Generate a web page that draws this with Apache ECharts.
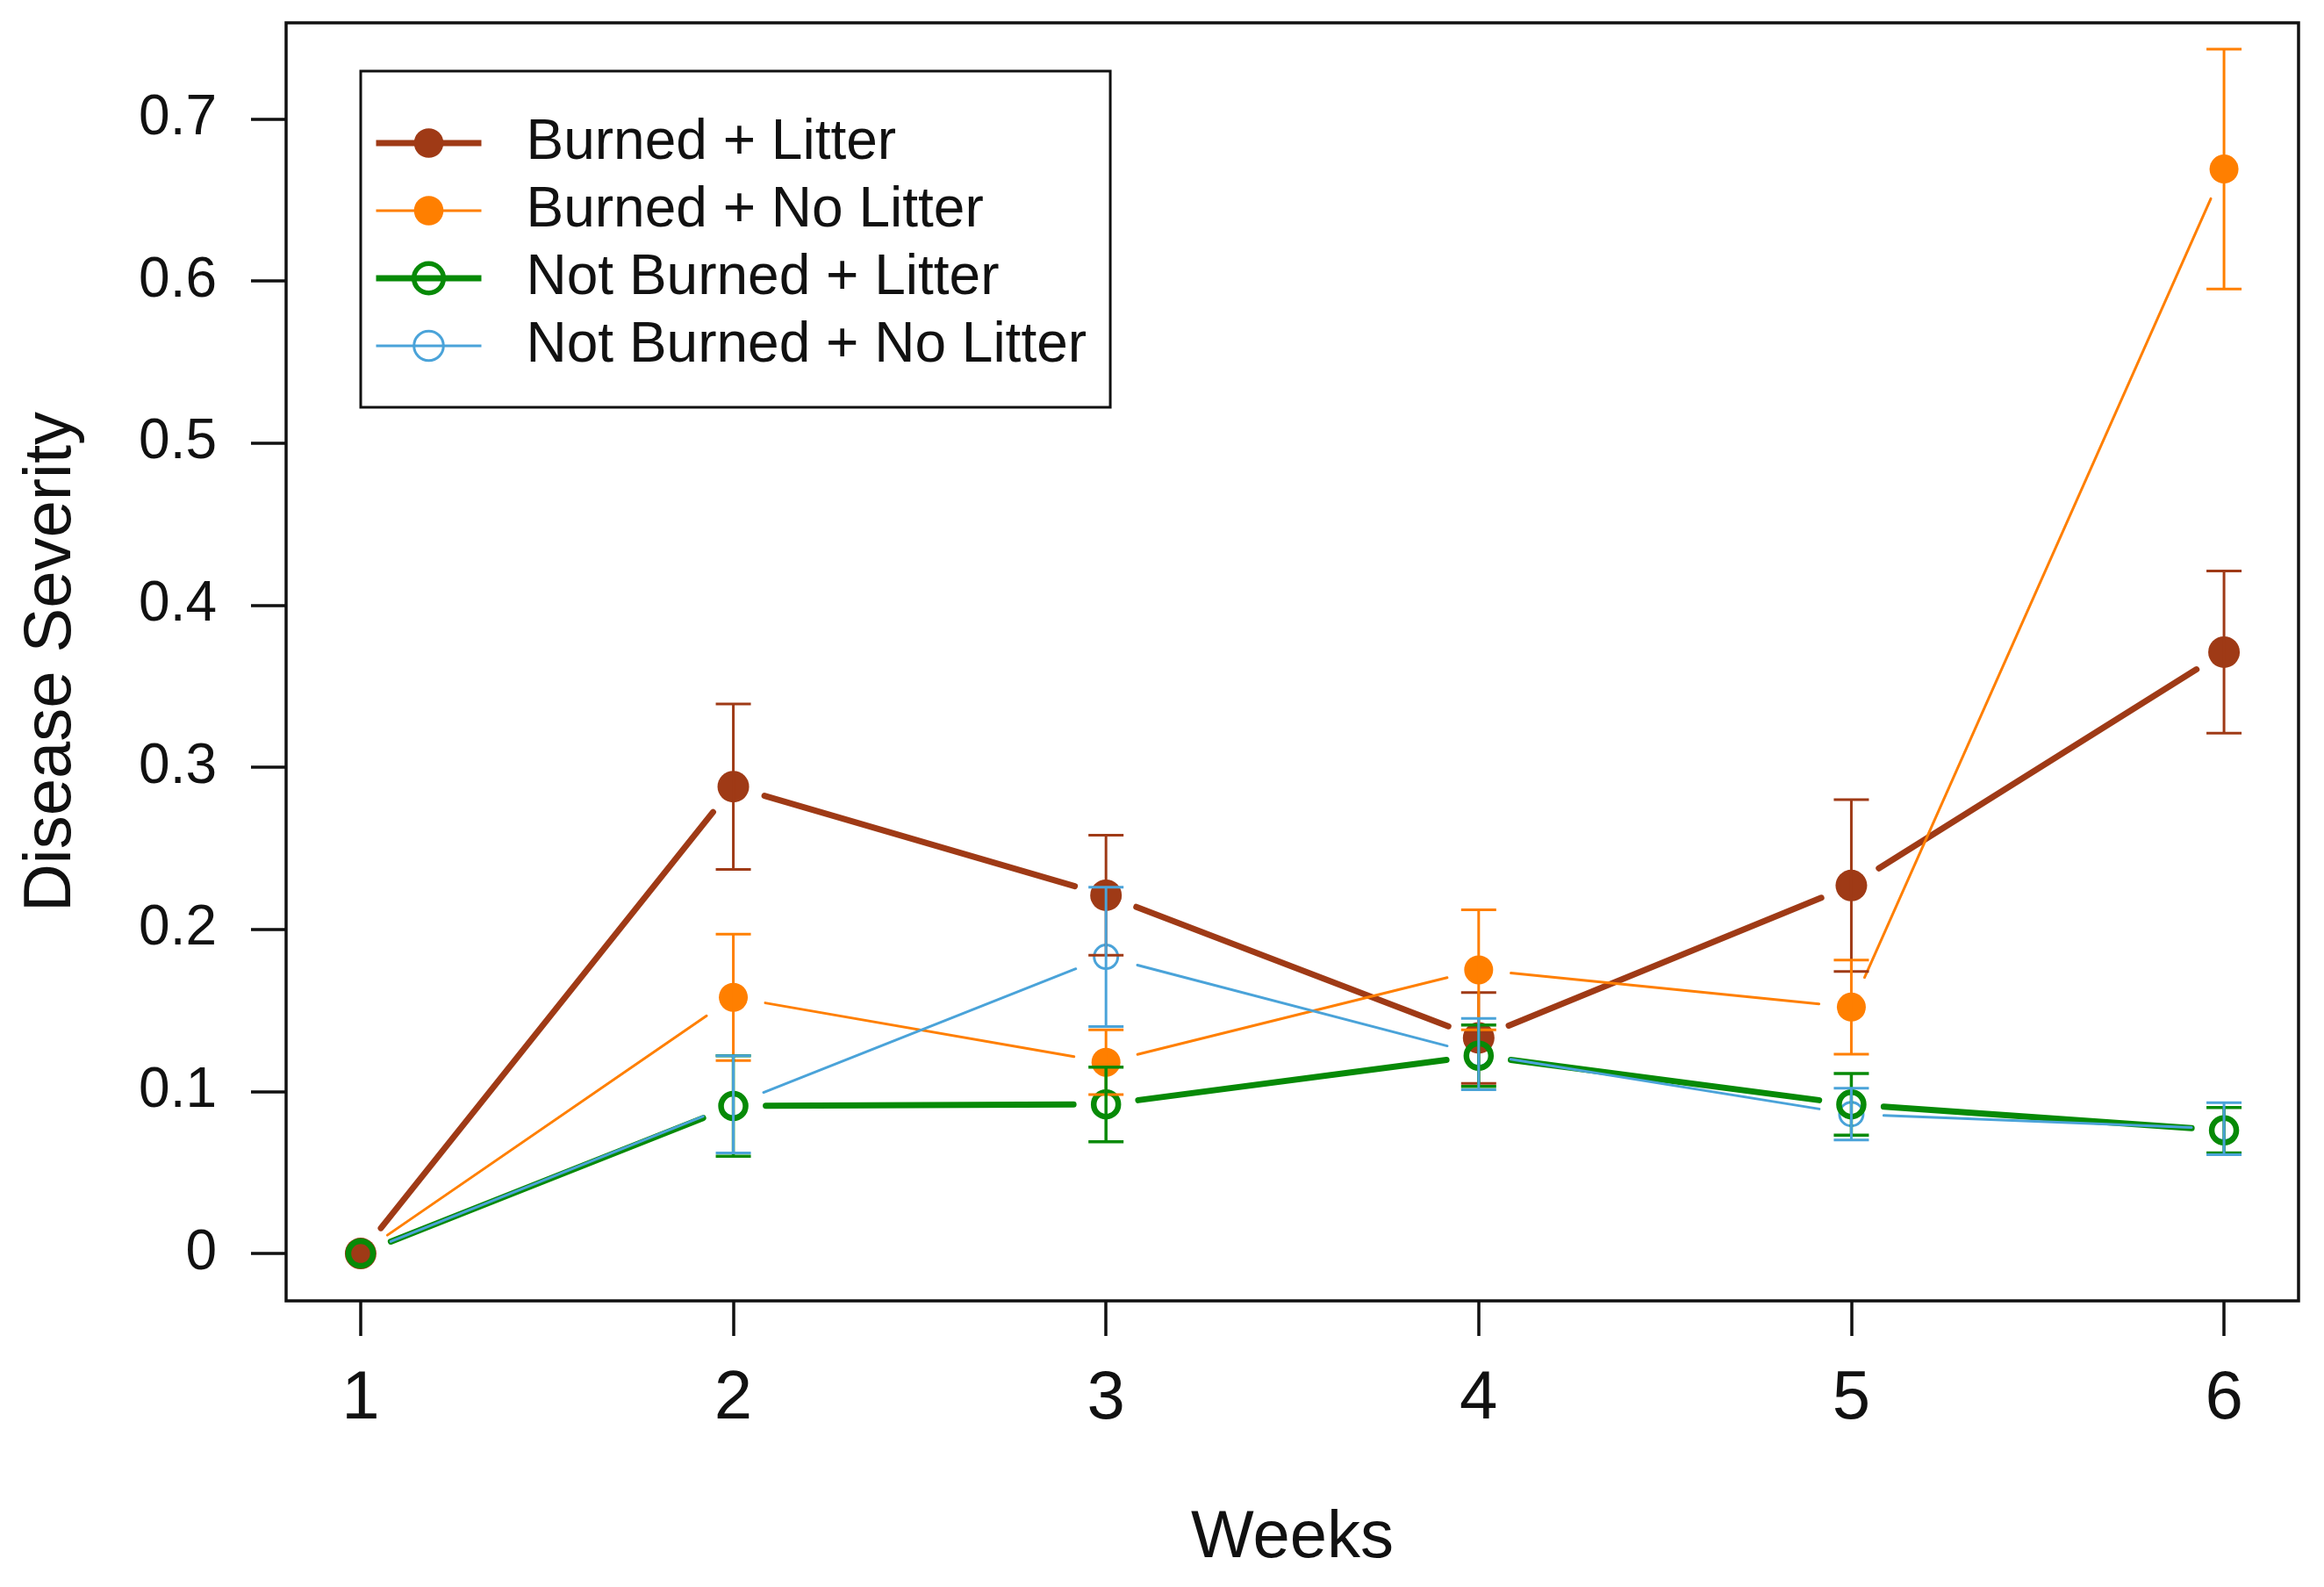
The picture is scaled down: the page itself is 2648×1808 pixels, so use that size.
<!DOCTYPE html>
<html>
<head>
<meta charset="utf-8">
<script src="https://cdn.jsdelivr.net/npm/echarts@6/dist/echarts.min.js"></script>
<style>
html, body { margin: 0; padding: 0; background: #ffffff; }
#chart { width: 2648px; height: 1808px; }
</style>
</head>
<body>
<div id="chart"></div>
<script>
// ---- data ----
const weeks = [1, 2, 3, 4, 5, 6];
const xTicks = [1, 2, 3, 4, 5, 6];
const yTicks = [0, 0.1, 0.2, 0.3, 0.4, 0.5, 0.6, 0.7];
const yTickLabels = ['0', '0.1', '0.2', '0.3', '0.4', '0.5', '0.6', '0.7'];

const seriesNames = ['Burned + Litter', 'Burned + No Litter', 'Not Burned + Litter', 'Not Burned + No Litter'];

const burnedLitter       = [0, 0.288, 0.221, 0.133, 0.227, 0.371];
const burnedLitterErr    = [0, 0.051, 0.037, 0.028, 0.053, 0.050];
const burnedNoLitter     = [0, 0.158, 0.118, 0.175, 0.152, 0.669];
const burnedNoLitterErr  = [0, 0.039, 0.020, 0.037, 0.029, 0.074];
const notBurnedLitter    = [0, 0.091, 0.092, 0.122, 0.092, 0.076];
const notBurnedLitterErr = [0, 0.031, 0.023, 0.019, 0.019, 0.014];
const notBurnedNoLitter    = [0, 0.092, 0.183, 0.123, 0.086, 0.077];
const notBurnedNoLitterErr = [0, 0.030, 0.043, 0.022, 0.016, 0.016];

// ---- styles ----
const FONT = "'Liberation Sans', Arial, Helvetica, sans-serif";
const C_BROWN = '#9F3A16';
const C_ORANGE = '#FF7F00';
const C_GREEN = '#078A07';
const C_BLUE = '#4AA3D9';
const GAP = 37;      // gap between line ends and point centres (R type="b")
const CAP = 20;      // half width of error bar caps

const groups = [
  { name: seriesNames[0], vals: burnedLitter, err: burnedLitterErr, color: C_BROWN, lw: 7, ew: 3,
    sym: { size: 36, style: { color: C_BROWN } },
    leg: { itemStyle: { color: C_BROWN, borderWidth: 0 }, lineStyle: { color: C_BROWN, width: 7, opacity: 1 } } },
  { name: seriesNames[1], vals: burnedNoLitter, err: burnedNoLitterErr, color: C_ORANGE, lw: 3, ew: 3,
    sym: { size: 33, style: { color: C_ORANGE } },
    leg: { itemStyle: { color: C_ORANGE, borderWidth: 0 }, lineStyle: { color: C_ORANGE, width: 3, opacity: 1 } } },
  { name: seriesNames[2], vals: notBurnedLitter, err: notBurnedLitterErr, color: C_GREEN, lw: 7, ew: 3.5,
    sym: { size: 28, style: { color: 'rgba(255,255,255,0)', borderColor: C_GREEN, borderWidth: 6.5 } },
    leg: { itemStyle: { color: 'rgba(255,255,255,0)', borderColor: C_GREEN, borderWidth: 5.5, opacity: 1 }, lineStyle: { color: C_GREEN, width: 7, opacity: 1 } } },
  { name: seriesNames[3], vals: notBurnedNoLitter, err: notBurnedNoLitterErr, color: C_BLUE, lw: 3, ew: 3,
    sym: { size: 27, style: { color: 'rgba(255,255,255,0)', borderColor: C_BLUE, borderWidth: 3 } },
    leg: { itemStyle: { color: 'rgba(255,255,255,0)', borderColor: C_BLUE, borderWidth: 3, opacity: 1 }, lineStyle: { color: C_BLUE, width: 3, opacity: 1 } } }
];

const series = [];
// gapped connecting lines
groups.forEach((g, gi) => {
  const segs = [];
  for (let i = 0; i < weeks.length - 1; i++) segs.push([weeks[i], g.vals[i], weeks[i + 1], g.vals[i + 1]]);
  series.push({
    type: 'custom', name: 'seg' + gi, silent: true, z: 2, clip: false,
    encode: { x: [0, 2], y: [1, 3] },
    data: segs,
    renderItem: (params, api) => {
      const p0 = api.coord([api.value(0), api.value(1)]);
      const p1 = api.coord([api.value(2), api.value(3)]);
      const dx = p1[0] - p0[0], dy = p1[1] - p0[1];
      const L = Math.hypot(dx, dy);
      if (L <= 2 * GAP) return null;
      const ux = dx / L, uy = dy / L;
      return {
        type: 'line',
        shape: { x1: p0[0] + ux * GAP, y1: p0[1] + uy * GAP, x2: p1[0] - ux * GAP, y2: p1[1] - uy * GAP },
        style: { stroke: g.color, lineWidth: g.lw, lineCap: 'round' }
      };
    }
  });
});
// point markers (line series, line hidden) – drawing order so brown sits over orange and green ring on top
const markerOrder = [1, 0, 3, 2];
markerOrder.forEach((gi) => {
  const g = groups[gi];
  series.push({
    type: 'line', name: g.name, silent: true, z: 3,
    data: weeks.map((w, i) => [w, g.vals[i]]),
    symbol: 'circle', symbolSize: g.sym.size, showAllSymbol: true,
    itemStyle: g.sym.style,
    lineStyle: { color: g.color, width: g.lw, opacity: 0 },
    emphasis: { disabled: true },
    animation: false
  });
});
// error bars
groups.forEach((g, gi) => {
  series.push({
    type: 'custom', name: 'err' + gi, silent: true, z: 4, clip: false,
    encode: { x: 0, y: [1, 2] },
    data: weeks.map((w, i) => [w, g.vals[i] - g.err[i], g.vals[i] + g.err[i]]),
    renderItem: (params, api) => {
      const x = api.value(0), lo = api.value(1), hi = api.value(2);
      if (hi - lo <= 1e-9) return null;
      const t = api.coord([x, hi]), b = api.coord([x, lo]);
      const st = { stroke: g.color, lineWidth: g.ew };
      return {
        type: 'group',
        children: [
          { type: 'line', shape: { x1: t[0], y1: t[1], x2: b[0], y2: b[1] }, style: st },
          { type: 'line', shape: { x1: t[0] - CAP, y1: t[1], x2: t[0] + CAP, y2: t[1] }, style: st },
          { type: 'line', shape: { x1: b[0] - CAP, y1: b[1], x2: b[0] + CAP, y2: b[1] }, style: st }
        ]
      };
    }
  });
});

const chart = echarts.init(document.getElementById('chart'), null, { renderer: 'canvas' });
chart.setOption({
  backgroundColor: '#ffffff',
  animation: false,
  textStyle: { fontFamily: FONT },
  grid: {
    left: 326, top: 26, right: 29, bottom: 326,
    show: true, borderColor: '#111', borderWidth: 3.5, backgroundColor: 'transparent'
  },
  legend: {
    orient: 'vertical', left: 411, top: 81,
    padding: [50, 27, 38, 14],
    itemWidth: 120, itemHeight: 42, itemGap: 13,
    borderColor: '#111', borderWidth: 3, backgroundColor: '#fff',
    selectedMode: false,
    textStyle: { fontFamily: FONT, fontSize: 64, color: '#111', padding: [0, 0, 0, 46], lineHeight: 62 },
    data: groups.map(g => Object.assign({ name: g.name }, g.leg))
  },
  xAxis: {
    type: 'value', min: 0.8, max: 6.2,
    name: 'Weeks', nameLocation: 'middle', nameGap: 233,
    nameTextStyle: { fontFamily: FONT, fontSize: 76, color: '#111' },
    axisLine: { show: false, onZero: false },
    axisTick: { show: true, inside: false, length: 40, lineStyle: { color: '#111', width: 3.5 }, customValues: xTicks },
    axisLabel: { show: true, fontFamily: FONT, fontSize: 78, color: '#111', margin: 73, customValues: xTicks,
      formatter: v => String(v) },
    splitLine: { show: false }
  },
  yAxis: {
    type: 'value', min: -0.0292, max: 0.7592,
    name: 'Disease Severity', nameLocation: 'middle', nameGap: 229,
    nameTextStyle: { fontFamily: FONT, fontSize: 76, color: '#111' },
    axisLine: { show: false, onZero: false },
    axisTick: { show: true, inside: false, length: 40, lineStyle: { color: '#111', width: 3.5 }, customValues: yTicks },
    axisLabel: { show: true, fontFamily: FONT, fontSize: 64, color: '#111', margin: 79, customValues: yTicks,
      formatter: v => { const i = yTicks.findIndex(t => Math.abs(t - v) < 1e-6); return i >= 0 ? yTickLabels[i] : ''; } },
    splitLine: { show: false }
  },
  series: series
});
</script>
</body>
</html>
